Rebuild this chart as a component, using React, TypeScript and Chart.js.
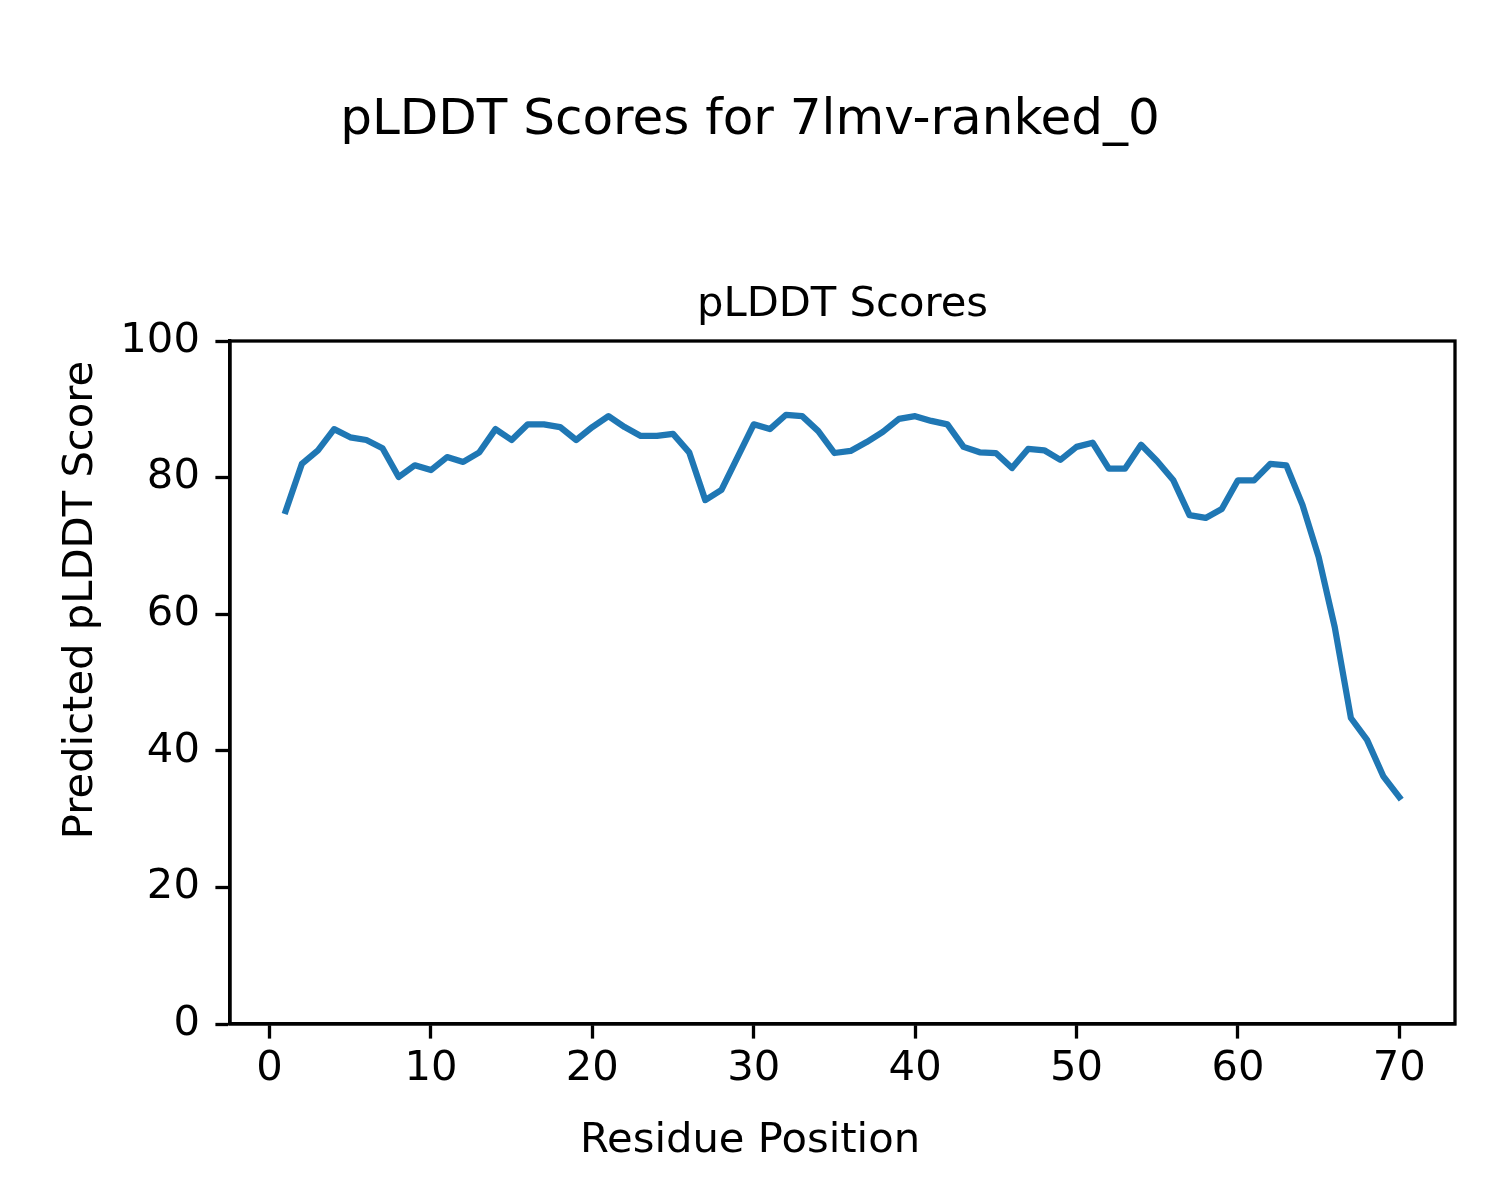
import React, { useEffect, useRef } from "react";
import { Chart, registerables } from "chart.js";

Chart.register(...registerables);

const residues: number[] = [
  1, 2, 3, 4, 5, 6, 7, 8, 9, 10, 11, 12, 13, 14, 15, 16, 17, 18, 19, 20,
  21, 22, 23, 24, 25, 26, 27, 28, 29, 30, 31, 32, 33, 34, 35, 36, 37, 38, 39, 40,
  41, 42, 43, 44, 45, 46, 47, 48, 49, 50, 51, 52, 53, 54, 55, 56, 57, 58, 59, 60,
  61, 62, 63, 64, 65, 66, 67, 68, 69, 70,
];

const plddtScores: number[] = [
  75.1, 82.0, 84.0, 87.1, 85.9, 85.5, 84.3, 80.1, 81.8, 81.1,
  83.0, 82.3, 83.7, 87.1, 85.5, 87.8, 87.8, 87.4, 85.5, 87.4,
  89.0, 87.4, 86.1, 86.1, 86.4, 83.7, 76.7, 78.2, 83.0, 87.8,
  87.1, 89.2, 89.0, 86.8, 83.6, 83.9, 85.2, 86.7, 88.6, 89.0,
  88.3, 87.8, 84.5, 83.7, 83.6, 81.4, 84.2, 84.0, 82.6, 84.5,
  85.1, 81.3, 81.3, 84.8, 82.4, 79.6, 74.5, 74.1, 75.4, 79.6,
  79.6, 82.0, 81.8, 76.0, 68.4, 58.1, 44.8, 41.6, 36.3, 33.2,
];

const xTickValues: number[] = [0, 10, 20, 30, 40, 50, 60, 70];
const yTickValues: number[] = [0, 20, 40, 60, 80, 100];

const figureTitle = "pLDDT Scores for 7lmv-ranked_0";
const axesTitle = "pLDDT Scores";
const xLabel = "Residue Position";
const yLabel = "Predicted pLDDT Score";

const FONT = "'DejaVu Sans', sans-serif";

const textPlugin = {
  id: "mplText",
  afterDraw(chart: any) {
    const ctx = chart.ctx;
    const area = chart.chartArea;
    ctx.save();
    ctx.strokeStyle = "#000";
    ctx.lineWidth = 3.3;
    ctx.strokeRect(area.left, area.top, area.right - area.left, area.bottom - area.top);

    ctx.fillStyle = "#000";
    ctx.textAlign = "center";
    ctx.textBaseline = "alphabetic";

    ctx.font = `50px ${FONT}`;
    ctx.fillText(figureTitle, 750, 134);

    ctx.font = `41.7px ${FONT}`;
    ctx.fillText(axesTitle, (area.left + area.right) / 2, 316);

    ctx.fillText(xLabel, 750, 1152);

    ctx.translate(92, 600);
    ctx.rotate(-Math.PI / 2);
    ctx.fillText(yLabel, 0, 0);
    ctx.restore();
  },
};

export default function App() {
  const canvasRef = useRef<HTMLCanvasElement | null>(null);

  useEffect(() => {
    document.body.style.margin = "0";
    const canvas = canvasRef.current;
    if (!canvas) return;
    const data = residues.map((r, i) => ({ x: r, y: plddtScores[i] }));
    const chart = new Chart(canvas, {
      type: "line",
      data: {
        datasets: [
          {
            data,
            borderColor: "#1f77b4",
            backgroundColor: "#1f77b4",
            borderWidth: 6.25,
            pointRadius: 0,
            tension: 0,
            borderJoinStyle: "round",
            borderCapStyle: "square",
            fill: false,
          },
        ],
      },
      options: {
        responsive: false,
        animation: false,
        devicePixelRatio: 1,
        layout: { padding: { top: 341, left: 0, right: 45, bottom: 0 } },
        plugins: {
          legend: { display: false },
          title: { display: false },
          tooltip: { enabled: false },
        },
        scales: {
          x: {
            type: "linear",
            min: -2.45,
            max: 73.45,
            afterBuildTicks: (scale: any) => {
              scale.ticks = xTickValues.map((v) => ({ value: v }));
            },
            afterFit: (scale: any) => {
              scale.height = 176;
            },
            grid: {
              drawOnChartArea: false,
              drawTicks: true,
              tickLength: 14.6,
              tickWidth: 3.3,
              tickColor: "#000",
            },
            border: { display: true, color: "#000", width: 3.3 },
            ticks: {
              color: "#000",
              font: { family: FONT, size: 41.7 },
              padding: 6,
              maxRotation: 0,
              autoSkip: false,
            },
          },
          y: {
            type: "linear",
            min: 0,
            max: 100,
            afterBuildTicks: (scale: any) => {
              scale.ticks = yTickValues.map((v) => ({ value: v }));
            },
            afterFit: (scale: any) => {
              scale.width = 230;
            },
            grid: {
              drawOnChartArea: false,
              drawTicks: true,
              tickLength: 14.6,
              tickWidth: 3.3,
              tickColor: "#000",
            },
            border: { display: true, color: "#000", width: 3.3 },
            ticks: {
              color: "#000",
              font: { family: FONT, size: 41.7 },
              padding: 15.5,
              autoSkip: false,
            },
          },
        },
      },
      plugins: [textPlugin],
    });
    return () => chart.destroy();
  }, []);

  return (
    <div style={{ width: 1500, height: 1200 }}>
      <canvas ref={canvasRef} width={1500} height={1200} style={{ display: "block", width: 1500, height: 1200 }} />
    </div>
  );
}
